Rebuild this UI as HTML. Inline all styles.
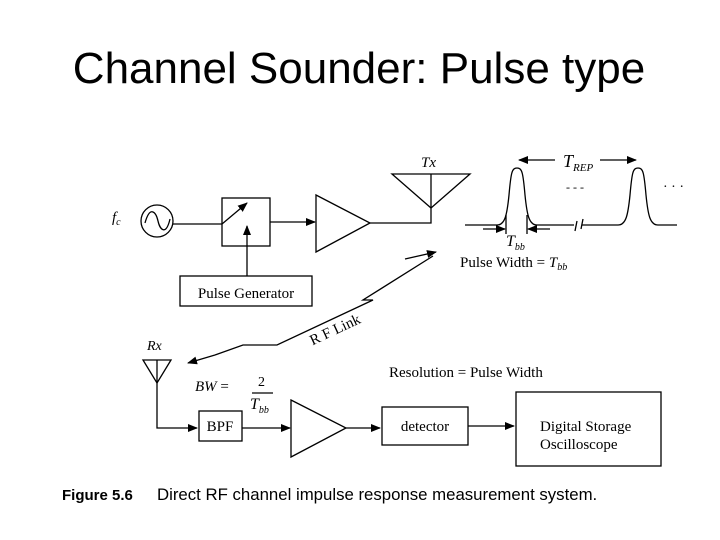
<!DOCTYPE html>
<html><head><meta charset="utf-8"><style>
body{margin:0;background:#fff;}
svg{display:block;}
text{font-family:"Liberation Serif",serif;fill:#000;}
</style></head><body>
<svg width="720" height="540" viewBox="0 0 720 540" xmlns="http://www.w3.org/2000/svg">
<defs>
<marker id="a" markerWidth="10" markerHeight="8" refX="9" refY="4" orient="auto" markerUnits="userSpaceOnUse"><path d="M0,0 L10,4 L0,8 z" fill="#000"/></marker>
</defs>
<text x="359" y="83" font-size="44" text-anchor="middle" style="font-family:'Liberation Sans',sans-serif">Channel Sounder: Pulse type</text>
<g stroke="#000" stroke-width="1.3" fill="none">
<circle cx="157" cy="221" r="16"/>
<path d="M145,223 C150,205 156,212 158,221 C160,230 166,236 170,219"/>
<line x1="173" y1="224" x2="222" y2="224"/>
<rect x="222" y="198" width="48" height="48"/>
<line x1="222" y1="224" x2="247" y2="203" marker-end="url(#a)"/>
<line x1="247" y1="276" x2="247" y2="226" marker-end="url(#a)"/>
<line x1="270" y1="222" x2="315" y2="222" marker-end="url(#a)"/>
<path d="M316,195 L370,223 L316,252 z"/>
<path d="M370,223 L431,223 L431,174"/>
<path d="M392,174 L470,174 L431,208 z"/>
<rect x="180" y="276" width="132" height="30"/>
<path d="M433,256 L363,300 L373,300 L277,345 L243,345 L215,355" />
<path d="M465,225 L497,225 C505,225 507,215 509,195 C511,172 512,168 517,168 C522,168 523,172 525,195 C527,215 529,225 537,225 L574,225 M582,225 L618,225 C626,225 628,215 630,195 C632,172 633,168 638,168 C643,168 644,172 646,195 C648,215 650,225 658,225 L677,225"/>
<path d="M575,231 L577,221 M581,229 L583,219"/>
<line x1="555" y1="160" x2="519" y2="160" marker-end="url(#a)"/>
<line x1="600" y1="160" x2="636" y2="160" marker-end="url(#a)"/>
<line x1="483" y1="229" x2="505" y2="229" marker-end="url(#a)"/>
<line x1="550" y1="229" x2="528" y2="229" marker-end="url(#a)"/>
<line x1="506" y1="215" x2="506" y2="234"/>
<line x1="527" y1="215" x2="527" y2="234"/>
<path d="M143,360 L171,360 L157,383 z"/>
<line x1="157" y1="360" x2="157" y2="383"/>
<path d="M157,383 L157,428 L197,428" marker-end="url(#a)"/>
<rect x="199" y="411" width="43" height="30"/>
<line x1="242" y1="428" x2="290" y2="428" marker-end="url(#a)"/>
<path d="M291,400 L346,428 L291,457 z"/>
<line x1="346" y1="428" x2="380" y2="428" marker-end="url(#a)"/>
<rect x="382" y="407" width="86" height="38"/>
<line x1="468" y1="426" x2="514" y2="426" marker-end="url(#a)"/>
<rect x="516" y="392" width="145" height="74"/>
<line x1="252" y1="393" x2="273" y2="393"/>
</g>
<line x1="405" y1="259" x2="436" y2="252" stroke="#000" stroke-width="1.3" marker-end="url(#a)"/>
<line x1="215" y1="355" x2="188" y2="363" stroke="#000" stroke-width="1.3" marker-end="url(#a)"/>
<text x="112" y="222" font-size="15" font-style="italic">f<tspan font-size="10" dy="3">c</tspan></text>
<text x="421" y="167" font-size="15" font-style="italic">Tx</text>
<text x="246" y="298" font-size="15" text-anchor="middle">Pulse Generator</text>
<text x="337" y="334" font-size="15" transform="rotate(-25 337 334)" text-anchor="middle">R F Link</text>
<text x="563" y="167" font-size="18" font-style="italic">T<tspan font-size="11" dy="4">REP</tspan></text>
<text x="566" y="191" font-size="12">- - -</text>
<text x="663" y="191" font-size="14">· · ·</text>
<text x="506" y="246" font-size="16" font-style="italic">T<tspan font-size="10" dy="4">bb</tspan></text>
<text x="460" y="267" font-size="15">Pulse Width = <tspan font-style="italic">T</tspan><tspan font-style="italic" font-size="10" dy="3">bb</tspan></text>
<text x="147" y="350" font-size="14" font-style="italic">Rx</text>
<text x="195" y="391" font-size="15" font-style="italic">BW <tspan font-style="normal">=</tspan></text>
<text x="258" y="386" font-size="14">2</text>
<text x="250" y="409" font-size="16" font-style="italic">T<tspan font-size="10" dy="4">bb</tspan></text>
<text x="389" y="377" font-size="15">Resolution = Pulse Width</text>
<text x="220" y="431" font-size="15" text-anchor="middle">BPF</text>
<text x="425" y="431" font-size="15" text-anchor="middle">detector</text>
<text x="540" y="431" font-size="15">Digital Storage</text>
<text x="540" y="449" font-size="15">Oscilloscope</text>
<text x="62" y="500" font-size="15" font-weight="bold" style="font-family:'Liberation Sans',sans-serif">Figure 5.6</text>
<text x="157" y="500" font-size="16.8" style="font-family:'Liberation Sans',sans-serif">Direct RF channel impulse response measurement system.</text>
</svg>
</body></html>
